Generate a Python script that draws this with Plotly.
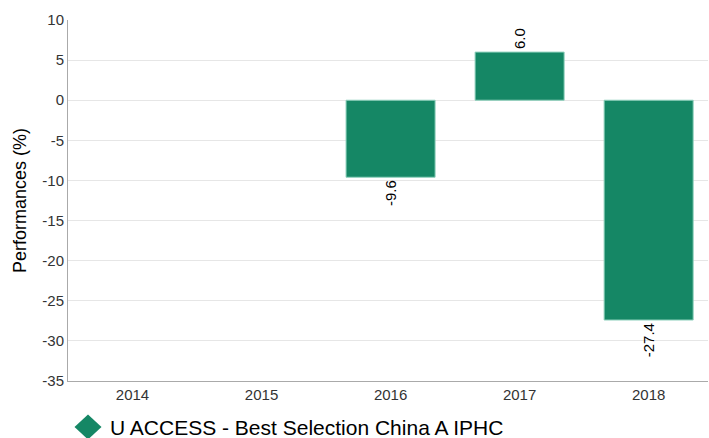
import plotly.graph_objects as go

years = ["2014", "2015", "2016", "2017", "2018"]
values = [None, None, -9.6, 6.0, -27.4]
labels = ["" if v is None else f"{v:.1f}" for v in values]
y_ticks = [10, 5, 0, -5, -10, -15, -20, -25, -30, -35]
y_tick_text = [str(t) for t in y_ticks]
series_name = "U ACCESS - Best Selection China A IPHC"
color = "#158765"

FONT = "Arial, Liberation Sans, sans-serif"

fig = go.Figure()
fig.add_trace(go.Bar(
    x=years, y=values, text=labels, textposition="outside", textangle=-90,
    textfont=dict(family=FONT, size=15, color="#000"),
    marker=dict(color=color, line=dict(color="#8fd1bd", width=1)),
    width=0.69, showlegend=False, cliponaxis=False, hoverinfo="skip",
))

# legend drawn as icon + label below the plot
fig.add_shape(type="path", xref="paper", yref="paper",
              xsizemode="pixel", ysizemode="pixel",
              xanchor=(88 - 68) / 640, yanchor=(381 - 427) / 361,
              path="M -13.5 0 L 0 12.5 L 13.5 0 L 0 -12.5 Z",
              fillcolor=color, line=dict(width=0))
fig.add_annotation(text=series_name, xref="paper", yref="paper",
                   x=(108 - 68) / 640, y=(381 - 427) / 361,
                   xanchor="left", yanchor="middle", showarrow=False,
                   font=dict(family=FONT, size=21, color="#000"))

fig.update_layout(
    width=709, height=438,
    margin=dict(l=68, r=1, t=20, b=57),
    plot_bgcolor="white", paper_bgcolor="white",
    font=dict(family=FONT, color="#333"),
    showlegend=False,
)
fig.update_xaxes(type="category", categoryorder="array", categoryarray=years,
                 range=[-0.5, 4.46], automargin=False,
                 showline=True, linecolor="#aaa", linewidth=1,
                 tickfont=dict(family=FONT, size=15, color="#333"), showgrid=False, ticks="")
fig.update_yaxes(range=[-35, 10], tickvals=y_ticks, ticktext=y_tick_text,
                 automargin=False, showgrid=True, gridcolor="#e6e6e6",
                 showline=True, linecolor="#aaa", linewidth=1, zeroline=False,
                 tickfont=dict(family=FONT, size=15, color="#333"),
                 title=dict(text="Performances (%)", font=dict(family=FONT, size=18, color="#000"), standoff=11))
fig.write_html("out.html", config={"displayModeBar": False},
               post_script="document.body.style.margin='0';document.body.style.padding='0';document.body.style.overflow='hidden';")
